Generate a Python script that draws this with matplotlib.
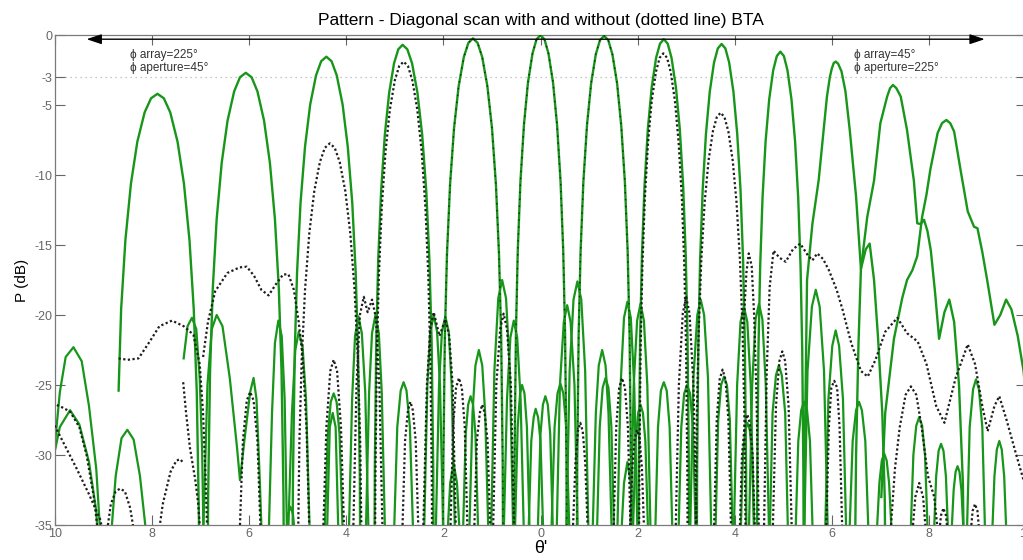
import matplotlib
matplotlib.use("Agg")
import matplotlib.pyplot as plt

# ---- data: theta' (deg) and P (dB) ----

# main lobes with BTA (green), one list per beam
green_main_theta = [
    [-8.69, -8.638, -8.55, -8.436, -8.304, -8.154, -8.022, -7.89, -7.758, -7.626, -7.476,
     -7.344, -7.23, -7.142, -7.08, -7.036, -7.01],
    [-6.87, -6.846, -6.806, -6.75, -6.67, -6.566, -6.446, -6.31, -6.19, -6.07, -5.95, -5.83,
     -5.694, -5.574, -5.47, -5.39, -5.334, -5.294, -5.27],
    [-5.12, -5.099, -5.063, -5.014, -4.943, -4.85, -4.744, -4.623, -4.517, -4.41, -4.304,
     -4.197, -4.076, -3.97, -3.877, -3.807, -3.757, -3.721, -3.70],
    [-3.43, -3.412, -3.383, -3.343, -3.283, -3.206, -3.117, -3.017, -2.929, -2.84, -2.743,
     -2.645, -2.535, -2.437, -2.353, -2.288, -2.242, -2.21, -2.19],
    [-2.02, -2.001, -1.97, -1.926, -1.863, -1.781, -1.686, -1.579, -1.485, -1.39, -1.296,
     -1.201, -1.094, -0.999, -0.918, -0.855, -0.81, -0.779, -0.76],
    [-0.55, -0.534, -0.506, -0.468, -0.413, -0.341, -0.259, -0.165, -0.083, 0.0, 0.083,
     0.165, 0.259, 0.341, 0.413, 0.468, 0.506, 0.534, 0.55],
    [0.74, 0.757, 0.786, 0.826, 0.883, 0.957, 1.042, 1.139, 1.225, 1.31, 1.396, 1.481,
     1.578, 1.663, 1.738, 1.795, 1.834, 1.863, 1.88],
    [2.01, 2.026, 2.052, 2.09, 2.143, 2.211, 2.291, 2.381, 2.461, 2.54, 2.62, 2.699, 2.789,
     2.869, 2.938, 2.991, 3.028, 3.054, 3.07],
    [3.21, 3.226, 3.252, 3.288, 3.34, 3.408, 3.486, 3.574, 3.652, 3.73, 3.808, 3.886, 3.974,
     4.052, 4.12, 4.172, 4.208, 4.234, 4.25],
    [4.45, 4.465, 4.489, 4.524, 4.573, 4.636, 4.71, 4.793, 4.867, 4.94, 5.014, 5.087, 5.17,
     5.244, 5.308, 5.357, 5.391, 5.415, 5.43],
    [5.42, 5.45, 5.49, 5.60, 5.73, 5.82, 5.90, 5.96, 6.00, 6.04, 6.08, 6.13, 6.20, 6.28,
     6.37, 6.50, 6.60, 6.70, 6.78, 6.87, 6.95, 7.04, 7.09, 7.11],
    [6.47, 6.50, 6.55, 6.60, 6.73, 6.87, 7.00, 7.14, 7.20, 7.26, 7.33, 7.42, 7.55, 7.69,
     7.76, 7.83, 7.90, 7.97, 8.04, 8.13, 8.21, 8.32, 8.42, 8.52, 8.62, 8.70, 8.73],
    [7.02, 7.10, 7.28, 7.45, 7.55, 7.66, 7.76, 7.86, 7.95, 8.03, 8.18, 8.27, 8.36, 8.44,
     8.52, 8.65, 8.80, 8.93, 9.00, 9.10, 9.20, 9.35, 9.47, 9.59, 9.70, 9.83, 9.95, 10.05],
]
green_main_db = [
    [-25.4, -19.59, -14.65, -10.62, -7.62, -5.53, -4.52, -4.2, -4.52, -5.53, -7.62, -10.62,
     -14.65, -19.59, -25.5, -34.4, -49.2],
    [-47.7, -32.9, -24.0, -18.09, -13.15, -9.12, -6.12, -4.03, -3.02, -2.7, -3.02, -4.03,
     -6.12, -9.12, -13.15, -18.09, -24.0, -32.9, -47.7],
    [-46.5, -31.75, -22.85, -16.94, -12.0, -7.97, -4.97, -2.88, -1.87, -1.55, -1.87, -2.88,
     -4.97, -7.97, -12.0, -16.94, -22.85, -31.75, -46.5],
    [-45.7, -30.9, -22.0, -16.09, -11.15, -7.12, -4.12, -2.03, -1.02, -0.7, -1.02, -2.03,
     -4.12, -7.12, -11.15, -16.09, -22.0, -30.9, -45.7],
    [-45.2, -30.44, -21.54, -15.63, -10.69, -6.66, -3.66, -1.57, -0.56, -0.24, -0.56, -1.57,
     -3.66, -6.66, -10.69, -15.63, -21.54, -30.44, -45.2],
    [-45.0, -30.2, -21.3, -15.39, -10.45, -6.42, -3.42, -1.33, -0.32, 0.0, -0.32, -1.33,
     -3.42, -6.42, -10.45, -15.39, -21.3, -30.2, -45.0],
    [-45.0, -30.25, -21.35, -15.44, -10.5, -6.47, -3.47, -1.38, -0.37, -0.05, -0.37, -1.38,
     -3.47, -6.47, -10.5, -15.44, -21.35, -30.25, -45.0],
    [-45.3, -30.5, -21.6, -15.69, -10.75, -6.72, -3.72, -1.63, -0.62, -0.3, -0.62, -1.63,
     -3.72, -6.72, -10.75, -15.69, -21.6, -30.5, -45.3],
    [-45.6, -30.84, -21.94, -16.03, -11.09, -7.06, -4.06, -1.97, -0.96, -0.64, -0.96, -1.97,
     -4.06, -7.06, -11.09, -16.03, -21.94, -30.84, -45.6],
    [-46.2, -31.39, -22.49, -16.58, -11.64, -7.61, -4.61, -2.52, -1.51, -1.19, -1.51, -2.52,
     -4.61, -7.61, -11.64, -16.58, -22.49, -31.39, -46.2],
    [-40, -28, -17.5, -13.5, -10.36, -7.2, -4.4, -3.0, -2.4, -2.0, -1.9, -2.05, -2.6, -4.0,
     -6.8, -11.55, -16.7, -15.3, -14.9, -17.5, -21.5, -27, -33, -40],
    [-40, -30, -22, -16.7, -13.0, -10.4, -6.3, -4.4, -3.8, -3.57, -3.8, -4.4, -6.8, -10.4,
     -13.45, -13.5, -13.2, -14.0, -15.4, -18.5, -21.7, -19.8, -18.9, -20.5, -25, -32, -40],
    [-33, -27, -21.7, -18.8, -17.5, -16.8, -15.8, -13.0, -11.4, -9.6, -7.0, -6.3, -6.07,
     -6.3, -6.9, -9.6, -12.6, -13.7, -13.8, -15.5, -17.5, -20.7, -20.0, -18.9, -19.6, -21.5,
     -24, -28],
]

# side lobes with BTA (green)
green_side_theta = [
    [-10.1, -10.05, -9.9, -9.78, -9.62, -9.45, -9.3, -9.15, -9.07],
    [-10.05, -9.9, -9.69, -9.5, -9.3, -9.15, -9.1],
    [-8.85, -8.75, -8.63, -8.51, -8.38, -8.25, -8.11],
    [-7.35, -7.27, -7.18, -7.09, -7.02, -6.97, -6.94],
    [-6.95, -6.86, -6.77, -6.67, -6.55, -6.4, -6.25, -6.19, -6.1, -5.98, -5.91, -5.85, -5.78, -5.74],
    [-5.6, -5.53, -5.47, -5.4, -5.33, -5.27, -5.22],
    [-5.2, -5.12, -5.05, -4.98, -4.9, -4.83, -4.75],
    [-5.25, -5.2, -5.15, -5.1, -5.05],
    [-4.45, -4.38, -4.32, -4.26, -4.2, -4.14, -4.07],
    [-4.4, -4.34, -4.28, -4.22, -4.16],
    [-3.95, -3.88, -3.82, -3.75, -3.68, -3.61, -3.54],
    [-3.6, -3.53, -3.47, -3.4, -3.33, -3.27, -3.2],
    [-3.02, -2.95, -2.88, -2.82, -2.76, -2.69, -2.62],
    [-2.4, -2.33, -2.27, -2.2, -2.13, -2.07, -2.0],
    [-2.16, -2.09, -2.03, -1.96, -1.89, -1.83, -1.76],
    [-1.92, -1.86, -1.79, -1.72, -1.66],
    [-1.47, -1.4, -1.34, -1.27, -1.2, -1.14, -1.07],
    [-1.6, -1.54, -1.49, -1.44, -1.39, -1.34, -1.28],
    [-1.02, -0.95, -0.87, -0.79, -0.71, -0.63, -0.56],
    [-0.76, -0.69, -0.62, -0.55, -0.48, -0.41, -0.34],
    [-0.53, -0.47, -0.42, -0.38, -0.33, -0.28, -0.22],
    [-0.25, -0.19, -0.14, -0.1, -0.05, 0.0, 0.06],
    [-0.06, 0.0, 0.05, 0.1, 0.15, 0.2, 0.26],
    [0.22, 0.29, 0.35, 0.41, 0.47, 0.53, 0.6],
    [0.33, 0.4, 0.48, 0.55, 0.62, 0.7, 0.77],
    [0.53, 0.6, 0.68, 0.76, 0.84, 0.92, 0.99],
    [1.07, 1.14, 1.2, 1.27, 1.34, 1.4, 1.47],
    [1.16, 1.22, 1.28, 1.34, 1.4, 1.46, 1.52],
    [1.58, 1.65, 1.72, 1.79, 1.86, 1.93, 2.0],
    [1.85, 1.92, 1.99, 2.06, 2.13, 2.2, 2.27],
    [1.9, 1.96, 2.01, 2.06, 2.11, 2.16, 2.22],
    [1.66, 1.72, 1.79, 1.86, 1.92],
    [2.36, 2.42, 2.48, 2.54, 2.6, 2.66, 2.72],
    [2.84, 2.9, 2.96, 3.02, 3.08, 3.14, 3.2],
    [3.08, 3.15, 3.23, 3.3, 3.37, 3.45, 3.52],
    [3.6, 3.66, 3.72, 3.78, 3.84, 3.9, 3.96],
    [3.98, 4.05, 4.12, 4.19, 4.26, 4.33, 4.4],
    [4.29, 4.36, 4.43, 4.5, 4.57, 4.64, 4.71],
    [4.12, 4.17, 4.22, 4.26, 4.31, 4.36, 4.41],
    [4.72, 4.78, 4.85, 4.91, 4.97, 5.04, 5.1],
    [5.25, 5.31, 5.37, 5.43, 5.49, 5.55, 5.61],
    [5.43, 5.5, 5.59, 5.67, 5.75, 5.84, 5.92],
    [5.86, 5.93, 6.01, 6.08, 6.15, 6.23, 6.3],
    [6.36, 6.43, 6.5, 6.56, 6.62, 6.69, 6.76],
    [6.92, 6.98, 7.03, 7.08, 7.13, 7.18, 7.24],
    [7.62, 7.68, 7.74, 7.8, 7.86, 7.92, 7.98],
    [8.1, 8.15, 8.2, 8.25, 8.3, 8.35, 8.4],
    [8.78, 8.84, 8.91, 8.97, 9.03, 9.1, 9.16],
    [9.3, 9.35, 9.4, 9.45, 9.5, 9.55, 9.6],
    [8.46, 8.51, 8.55, 8.59, 8.63, 8.67, 8.72],
]
green_side_db = [
    [-36, -31, -25.5, -23.0, -22.3, -23.3, -26.5, -31, -35.5],
    [-30.5, -28, -26.8, -27.8, -30.5, -34, -37],
    [-36, -31.5, -28.8, -28.2, -28.9, -31.5, -36],
    [-23.1, -20.8, -20.2, -21.0, -24.5, -29.6, -36],
    [-36, -25, -21, -20.0, -20.8, -24.5, -29.5, -31.8, -29, -25.5, -24.5, -26, -32, -36],
    [-36, -27, -22, -20.4, -21.5, -26, -36],
    [-36, -27, -22.5, -21.2, -22.3, -26, -36],
    [-36, -34.2, -33.7, -34.2, -36],
    [-36, -28.5, -26.2, -25.6, -26.2, -28.5, -36],
    [-36, -28, -27, -28, -36],
    [-36, -26, -21.5, -20.1, -21.3, -25.5, -36],
    [-36, -25.5, -21.3, -20.0, -21.3, -25.5, -36],
    [-36, -28, -25.4, -24.8, -25.4, -28, -36],
    [-36, -25, -21.2, -20.0, -21.2, -25, -36],
    [-36, -25, -21.2, -20.1, -21.2, -25, -36],
    [-36, -32, -30.6, -32, -36],
    [-36, -27, -23.6, -22.5, -23.6, -27, -36],
    [-36, -28.5, -26.4, -25.8, -26.4, -28.5, -36],
    [-36, -24, -18.8, -17.5, -18.8, -24, -36],
    [-36, -26, -21.6, -20.4, -21.6, -26, -36],
    [-36, -28, -25.6, -25, -25.6, -28, -36],
    [-36, -29, -27.3, -26.7, -27.3, -29, -36],
    [-36, -28.5, -26.4, -25.8, -26.4, -28.5, -36],
    [-36, -28, -25.6, -24.9, -25.6, -28, -36],
    [-36, -25, -20.5, -19.3, -20.5, -25, -36],
    [-36, -24, -18.9, -17.6, -18.9, -24, -36],
    [-36, -27, -23.6, -22.5, -23.6, -27, -36],
    [-36, -28, -25.2, -24.5, -25.2, -28, -36],
    [-36, -25, -20.2, -19.05, -20.2, -25, -36],
    [-36, -25, -20.4, -19.2, -20.4, -25, -36],
    [-36, -29, -27, -26.4, -27, -29, -36],
    [-36, -32, -30.5, -32, -36],
    [-36, -28, -25.4, -24.8, -25.4, -28, -36],
    [-36, -28, -25.6, -25, -25.6, -28, -36],
    [-36, -24.5, -20, -18.9, -20, -24.5, -36],
    [-36, -27.5, -25, -24.4, -25, -27.5, -36],
    [-36, -25, -20.5, -19.4, -20.5, -25, -36],
    [-36, -25, -20.3, -19.2, -20.3, -25, -36],
    [-36, -30, -28.2, -27.7, -28.2, -30, -36],
    [-36, -27, -24.3, -23.6, -24.3, -27, -36],
    [-36, -29, -26.8, -26.2, -26.8, -29, -36],
    [-36, -24, -19.4, -18.2, -19.4, -24, -36],
    [-36, -26, -22.2, -21.1, -22.2, -26, -36],
    [-36, -29, -26.8, -26.2, -26.8, -29, -36],
    [-36, -32, -30.4, -29.9, -30.4, -32, -36],
    [-36, -30, -27.9, -27.3, -27.9, -30, -36],
    [-36, -31.5, -29.7, -29.2, -29.7, -31.5, -36],
    [-36, -28, -25.3, -24.6, -25.3, -28, -36],
    [-36, -31.5, -29.6, -29, -29.6, -31.5, -36],
    [-36, -32.5, -31.2, -30.8, -31.2, -32.5, -36],
]

# without BTA (dotted black)
dotted_theta = [
    [-5.02, -5.0, -4.966, -4.918, -4.85, -4.762, -4.66, -4.544, -4.442, -4.34, -4.238,
     -4.136, -4.02, -3.918, -3.83, -3.762, -3.714, -3.68, -3.66],
    [-3.42, -3.402, -3.372, -3.33, -3.27, -3.192, -3.102, -3.0, -2.91, -2.82, -2.73, -2.64,
     -2.538, -2.448, -2.37, -2.31, -2.268, -2.238, -2.22],
    [2.02, 2.035, 2.061, 2.097, 2.148, 2.214, 2.29, 2.377, 2.454, 2.53, 2.607, 2.683, 2.77,
     2.846, 2.913, 2.964, 2.999, 3.025, 3.04],
    [3.18, 3.196, 3.222, 3.26, 3.313, 3.381, 3.461, 3.551, 3.631, 3.71, 3.79, 3.869, 3.959,
     4.038, 4.107, 4.161, 4.198, 4.224, 4.24],
    [-8.69, -8.5, -8.28, -8.05, -7.85, -7.59, -7.35, -7.15, -7.02, -6.95, -6.9, -6.86],
    [-6.95, -6.85, -6.7, -6.45, -6.2, -6.05, -5.9, -5.75, -5.6, -5.45, -5.3, -5.19, -5.08,
     -4.98, -4.9, -4.82, -4.76],
    [4.6, 4.66, 4.72, 4.8, 4.92, 5.05, 5.2, 5.35, 5.5, 5.6, 5.7, 5.82, 5.94, 6.1, 6.22, 6.4,
     6.6, 6.74, 6.9, 7.1, 7.35, 7.55, 7.77, 7.95, 8.15, 8.32, 8.55, 8.8, 8.95, 9.1, 9.21,
     9.35, 9.45, 9.6, 9.8, 10.05],
    [7.2, 7.3, 7.4, 7.52, 7.63, 7.74, 7.85, 7.98, 8.11, 8.2],
    [-6.2, -6.13, -6.05, -5.98, -5.91, -5.83, -5.76],
    [-4.48, -4.41, -4.33, -4.26, -4.19, -4.11, -4.04],
    [-3.86, -3.79, -3.72, -3.64, -3.56, -3.47, -3.39, -3.32, -3.25],
    [-2.42, -2.34, -2.27, -2.2, -2.08, -1.96, -1.88, -1.81, -1.74],
    [-1.86, -1.8, -1.74, -1.68, -1.62, -1.56, -1.5],
    [-0.98, -0.91, -0.83, -0.76, -0.69, -0.61, -0.54],
    [-2.85, -2.79, -2.73, -2.68, -2.63, -2.57, -2.51],
    [-1.37, -1.31, -1.25, -1.2, -1.15, -1.09, -1.03],
    [-7.9, -7.78, -7.62, -7.5, -7.42, -7.35],
    [-8.95, -8.85, -8.75, -8.66, -8.56, -8.45, -8.35],
    [-10.05, -9.85, -9.69, -9.5, -9.35, -9.2, -9.1],
    [-10.05, -9.8, -9.55, -9.3, -9.07, -8.98],
    [-7.36, -7.3, -7.22, -7.11, -7.05, -7.0],
    [0.66, 0.72, 0.77, 0.82, 0.87, 0.92, 0.98],
    [1.5, 1.56, 1.62, 1.68, 1.74, 1.8, 1.86],
    [1.84, 1.89, 1.94, 1.99, 2.04, 2.09, 2.14],
    [2.78, 2.85, 2.93, 3.0, 3.07, 3.15, 3.22],
    [3.57, 3.63, 3.69, 3.75, 3.81, 3.87, 3.93],
    [4.1, 4.15, 4.21, 4.26, 4.31, 4.37, 4.42],
    [4.78, 4.85, 4.92, 4.98, 5.04, 5.11, 5.18],
    [4.18, 4.24, 4.29, 4.35, 4.4, 4.45, 4.5],
    [5.88, 5.94, 5.99, 6.05, 6.11, 6.16, 6.22],
    [7.65, 7.72, 7.8, 7.88, 7.95],
    [8.2, 8.25, 8.3, 8.35, 8.4],
    [8.85, 8.9, 8.95, 9.0, 9.05],
]
dotted_db = [
    [-52.7, -37.94, -29.04, -23.13, -18.19, -14.16, -11.16, -9.07, -8.06, -7.74, -8.06,
     -9.07, -11.16, -14.16, -18.19, -23.13, -29.04, -37.94, -52.7],
    [-46.9, -32.1, -23.2, -17.29, -12.35, -8.32, -5.32, -3.23, -2.22, -1.9, -2.22, -3.23,
     -5.32, -8.32, -12.35, -17.29, -23.2, -32.1, -46.9],
    [-46.3, -31.51, -22.61, -16.7, -11.76, -7.73, -4.73, -2.64, -1.63, -1.31, -1.63, -2.64,
     -4.73, -7.73, -11.76, -16.7, -22.61, -31.51, -46.3],
    [-50.5, -35.75, -26.85, -20.94, -16.0, -11.97, -8.97, -6.88, -5.87, -5.55, -5.87, -6.88,
     -8.97, -11.97, -16.0, -20.94, -26.85, -35.75, -50.5],
    [-23.1, -23.2, -23.1, -21.9, -20.8, -20.4, -20.8, -21.4, -23.5, -27, -31.5, -36],
    [-23, -20.5, -18.3, -17.0, -16.6, -16.55, -17.2, -18.2, -18.6, -17.8, -17.1, -17.1, -18.2,
     -20.5, -23, -28, -35.5],
    [-36, -24, -18, -15.4, -15.9, -16.2, -15.3, -14.9, -15.7, -16.1, -15.6, -16.0, -16.8,
     -18.2, -19.6, -22, -24, -24.4, -23.2, -21.2, -20.2, -21.3, -21.9, -23.5, -26.5, -27.7,
     -24.5, -22.1, -23.5, -26.5, -28.3, -26.5, -25.8, -27.5, -30, -33],
    [-36, -31, -28, -25.7, -25.1, -25.7, -28, -31.5, -33, -36],
    [-36, -29, -26.1, -25.5, -26.1, -29, -36],
    [-36, -28, -24, -23.2, -24, -28, -36],
    [-36, -25, -20, -18.7, -19.8, -18.9, -20.2, -25, -36],
    [-36, -25, -21, -19.8, -21.5, -20.3, -21.5, -25, -36],
    [-36, -28, -25.2, -24.5, -25.2, -28, -36],
    [-36, -25, -21, -19.9, -21, -25, -36],
    [-36, -29, -26.8, -26.2, -26.8, -29, -36],
    [-36, -29, -27, -26.4, -27, -29, -36],
    [-36.5, -33.5, -31.2, -30.4, -30.3, -30.6],
    [-36, -33.5, -32.6, -32.4, -32.6, -33.8, -36],
    [-26.3, -26.6, -26.9, -28.0, -30.0, -33.0, -36],
    [-27.6, -29.3, -31.0, -32.8, -34.6, -36],
    [-24.8, -27, -29.5, -31.8, -33.5, -36],
    [-36, -30.5, -28.3, -27.7, -28.3, -30.5, -36],
    [-36, -28, -25.2, -24.5, -25.2, -28, -36],
    [-36, -31, -28.8, -28.2, -28.8, -31, -36],
    [-36, -25, -19.9, -18.7, -19.9, -25, -36],
    [-36, -27.5, -24.6, -23.9, -24.6, -27.5, -36],
    [-36, -30, -27.7, -27.1, -27.7, -30, -36],
    [-36, -26.5, -23.3, -22.6, -23.3, -26.5, -36],
    [-21, -17, -15.6, -16.5, -20, -26, -36],
    [-36, -28, -25.2, -24.7, -25.2, -28, -36],
    [-36, -33, -32, -33, -36],
    [-36, -34.3, -33.8, -34.3, -36],
    [-36, -34, -33.5, -34, -36],
]
# beams near broadside are the same with and without BTA
dotted_same_as_green = [4, 5, 6]

x_ticks = [-10, -8, -6, -4, -2, 0, 2, 4, 6, 8, 10]
x_tick_labels = ['10', '8', '6', '4', '2', '0', '2', '4', '6', '8', '10']
y_ticks = [0, -3, -5, -10, -15, -20, -25, -30, -35]
y_tick_labels = ['0', '-3', '-5', '-10', '-15', '-20', '-25', '-30', '-35']

plt.rcParams['font.family'] = ['Liberation Sans', 'DejaVu Sans']

GREEN = '#17961a'
DOT = '#1e1e1e'

fig = plt.figure(figsize=(10.23, 5.6), dpi=100)
ax = fig.add_axes([55 / 1023, 35 / 560, 971 / 1023, 490 / 560])

ax.axhline(-3, color='#b5b5b5', lw=0.9, ls=(0, (1, 3)), zorder=1)

for th, db in zip(green_side_theta, green_side_db):
    ax.plot(th, db, color=GREEN, lw=1.6, zorder=2)
for th, db in zip(green_main_theta, green_main_db):
    ax.plot(th, db, color=GREEN, lw=1.7, zorder=3)

for th, db in zip(dotted_theta, dotted_db):
    ax.plot(th, db, color=DOT, lw=1.6, ls=(0, (1, 1.1)), zorder=4)
for i in dotted_same_as_green:
    ax.plot(green_main_theta[i], green_main_db[i], color=DOT, lw=1.0,
            ls=(0, (1, 4)), zorder=4)

ax.set_xlim(-10, 10)
ax.set_ylim(-35, 0)
ax.set_xticks(x_ticks)
ax.set_xticklabels(x_tick_labels)
ax.set_yticks(y_ticks)
ax.set_yticklabels(y_tick_labels)
ax.tick_params(direction='in', length=7, width=0.8, colors='#666666',
               labelsize=9, top=True, right=True, pad=2)
for s in ax.spines.values():
    s.set_color('#7a7a7a')
    s.set_linewidth(0.9)

# scan direction arrow along the top
ax.annotate('', xy=(-9.35, -0.3), xytext=(9.15, -0.3),
            arrowprops=dict(arrowstyle='<|-|>,head_length=0.9,head_width=0.3',
                            color='black', lw=1.0, shrinkA=0, shrinkB=0))
ax.text(-8.45, -1.43, 'ϕ array=225°', fontsize=8.5, color='#333333', va='center')
ax.text(-8.45, -2.36, 'ϕ aperture=45°', fontsize=8.5, color='#333333', va='center')
ax.text(6.45, -1.43, 'ϕ array=45°', fontsize=8.5, color='#333333', va='center')
ax.text(6.45, -2.36, 'ϕ aperture=225°', fontsize=8.5, color='#333333', va='center')

ax.set_title('Pattern - Diagonal scan with and without (dotted line) BTA',
             fontsize=12.5, pad=7)
ax.set_xlabel("θ'", fontsize=13, labelpad=0)
ax.set_ylabel('P (dB)', fontsize=11, labelpad=4)

fig.savefig('out.png', dpi=100)
